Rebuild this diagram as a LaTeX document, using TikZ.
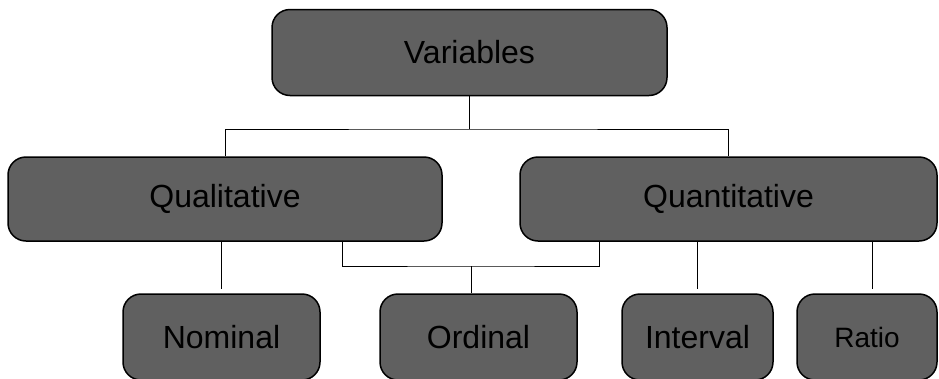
\documentclass[tikz,border=0pt]{standalone}
\usepackage{fontspec}
\setmainfont{Liberation Sans}
\usetikzlibrary{calc}
\definecolor{boxfill}{HTML}{606060}
\begin{document}
\begin{tikzpicture}[x=1pt,y=-1pt,
  box/.style={draw=black, line width=1.5pt, fill=boxfill, rounded corners=18pt, inner sep=0pt, font=\fontsize{32}{36}\selectfont, text=black},
  conn/.style={draw=black, line width=1pt}]
\useasboundingbox (0,0) rectangle (939,378);
\begin{scope}
\clip (0,0) rectangle (939,378);
\node[box, minimum width=395pt, minimum height=86pt] (var) at (469.5,52.5) {Variables};
\node[box, minimum width=434pt, minimum height=84pt] (qual) at (225,199) {Qualitative};
\node[box, minimum width=417pt, minimum height=84pt] (quan) at (728.5,199) {Quantitative};
\node[box, minimum width=197pt, minimum height=86pt] (nom) at (221.5,337) {Nominal};
\node[box, minimum width=197pt, minimum height=86pt] (ord) at (478.5,337) {Ordinal};
\node[box, minimum width=151pt, minimum height=86pt] (int) at (697.5,337) {Interval};
\node[box, minimum width=140pt, minimum height=86pt, font=\fontsize{28}{32}\selectfont] (rat) at (867,337) {Ratio};
\coordinate (j1) at (469.5,129);
\coordinate (j2) at (471,266);
\coordinate (qa) at (342,241);
\coordinate (qb) at (599,241);
\coordinate (nomend) at (221.5,289);
\coordinate (intend) at (697,289);
\coordinate (ratend) at (872,289);
\draw[conn] (var.south) -- (j1);
\draw[conn] (qual.north) |- (j1) -| (quan.north);
\draw[conn] (qa) |- (j2) -| (qb);
\draw[conn] (j2) -- (j2 |- ord.north);
\draw[conn] (nomend |- qual.south) -- (nomend);
\draw[conn] (intend |- quan.south) -- (intend);
\draw[conn] (ratend |- quan.south) -- (ratend);
\end{scope}
\end{tikzpicture}
\end{document}
